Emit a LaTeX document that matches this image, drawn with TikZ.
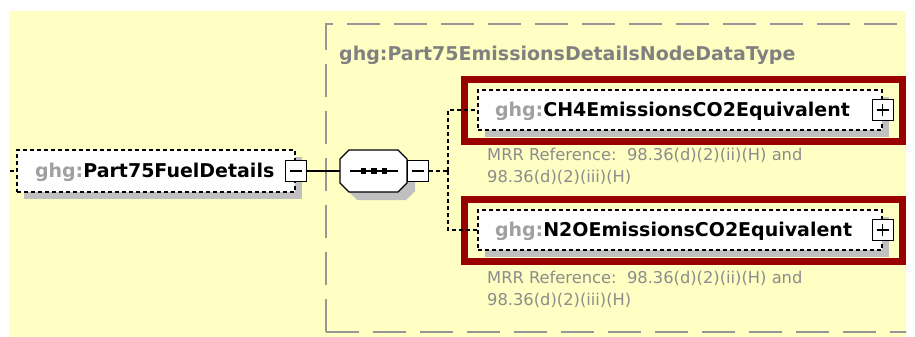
\documentclass[tikz,border=0pt]{standalone}
\usepackage{fontspec}
\setmainfont{DejaVu Sans}
\usetikzlibrary{shadows,calc}
\definecolor{bgyellow}{RGB}{255,255,196}
\definecolor{shgray}{RGB}{192,192,192}
\definecolor{typegray}{RGB}{150,150,150}
\definecolor{titlegray}{RGB}{128,128,128}
\definecolor{prefixgray}{RGB}{160,160,160}
\definecolor{notegray}{RGB}{140,140,140}
\definecolor{hlred}{RGB}{153,0,0}
\tikzset{
  shadowed/.style={drop shadow={shadow xshift=7pt, shadow yshift=-7pt, fill=shgray, opacity=1}},
  elem/.style={rectangle, draw=black, line width=1.2pt, dash pattern=on 4pt off 3pt, fill=white,
    inner ysep=0pt, text height=13.9pt, text depth=0pt, align=left,
    font=\fontsize{19}{22}\selectfont\bfseries, shadowed},
  pmbox/.style={rectangle, draw=black, solid, line width=1.2pt, fill=white, minimum size=21pt, inner sep=0pt},
  minusbox/.style={pmbox, path picture={\draw[line width=1.2pt] ([xshift=-6pt]path picture bounding box.center) -- ([xshift=6pt]path picture bounding box.center);}},
  plusbox/.style={pmbox, path picture={\draw[line width=1.2pt] ([xshift=-6pt]path picture bounding box.center) -- ([xshift=6pt]path picture bounding box.center);
      \draw[line width=1.2pt] ([yshift=-6pt]path picture bounding box.center) -- ([yshift=6pt]path picture bounding box.center);}},
  seqbase/.style={rectangle, draw=none, minimum width=67pt, minimum height=42pt, inner sep=0pt},
  octo/.style={line width=1.2pt, line join=miter},
  conn/.style={draw=black, line width=1.2pt, dash pattern=on 4pt off 3pt},
  solidconn/.style={draw=black, line width=1.2pt},
  hlbox/.style={draw=hlred, line width=6.5pt},
  typebox/.style={draw=typegray, line width=2pt, dash pattern=on 33pt off 14pt},
  note/.style={inner sep=0pt, align=left, text=notegray, font=\fontsize{16.3}{22.5}\selectfont},
  titletext/.style={inner sep=0pt, text=titlegray, font=\fontsize{19}{22}\selectfont\bfseries}
}
\begin{document}
\begin{tikzpicture}[x=1pt,y=-1pt]
\useasboundingbox (0,0) rectangle (915,337);
\fill[white] (0,0) rectangle (915,337);
\fill[bgyellow] (9,11) rectangle (906,337);
\begin{scope}
  \clip (9,11) rectangle (906,337);
  \draw[typebox] (326,332) -- (326,24) -- (930,24);
  \draw[typebox] (326,332) -- (930,332);
\end{scope}
\node[titletext, anchor=base west] (title) at (339,60) {ghg:Part75EmissionsDetailsNodeDataType};

% left element
\node[elem, minimum height=42pt, inner xsep=18pt, text width=242pt] (fuel) at (156,171)
  {\textcolor{prefixgray}{ghg:}Part75FuelDetails};
\node[minusbox] (fuelm) at (fuel.east) {};

% sequence compositor
\node[seqbase] (seq) at (373.5,171) {};
\begin{scope}[shift={(seq.center)}]
  \fill[shgray, shift={(8,8)}] (-24.5,-21) -- (24.5,-21) -- (33.5,-12) -- (33.5,12) -- (24.5,21) -- (-24.5,21) -- (-33.5,12) -- (-33.5,-12) -- cycle;
  \filldraw[octo, fill=white] (-24.5,-21) -- (24.5,-21) -- (33.5,-12) -- (33.5,12) -- (24.5,21) -- (-24.5,21) -- (-33.5,12) -- (-33.5,-12) -- cycle;
  \draw[solidconn] (-24,0) -- (24,0);
  \fill (-12.6,-2.6) rectangle (-7.4,2.6);
  \fill (-2.1,-2.6) rectangle (3.1,2.6);
  \fill (8.4,-2.6) rectangle (13.6,2.6);
\end{scope}
\node[minusbox, anchor=west] (seqm) at (seq.east) {};

% child elements
\node[elem, minimum height=40pt, inner xsep=17pt, text width=370pt] (ch4) at (680,110)
  {\textcolor{prefixgray}{ghg:}CH4EmissionsCO2Equivalent};
\node[plusbox] (ch4p) at (ch4.east) {};
\node[elem, minimum height=40pt, inner xsep=17pt, text width=370pt] (n2o) at (680,230)
  {\textcolor{prefixgray}{ghg:}N2OEmissionsCO2Equivalent};
\node[plusbox] (n2op) at (n2o.east) {};

\node[note, anchor=north west] (ch4note) at (487,147.6) {MRR Reference:\ \ 98.36(d)(2)(ii)(H) and\\98.36(d)(2)(iii)(H)};
\node[note, anchor=north west] (n2onote) at (487,270.6) {MRR Reference:\ \ 98.36(d)(2)(ii)(H) and\\98.36(d)(2)(iii)(H)};

% highlight frames
\draw[hlbox] ($(ch4.north west)+(-13,-10)$) rectangle ($(ch4.south east)+(20,11)$);
\draw[hlbox] ($(n2o.north west)+(-13,-10)$) rectangle ($(n2o.south east)+(20,11)$);

% connectors
\coordinate (stub) at (10,171);
\coordinate (branch) at (448,171);
\draw[conn] (stub) -- (fuel.west);
\draw[solidconn] (fuelm.east) -- (seq.west);
\draw[conn] (seqm.east) -- (branch);
\draw[conn] (branch) |- (ch4.west);
\draw[conn] (branch) |- (n2o.west);
\end{tikzpicture}
\end{document}
